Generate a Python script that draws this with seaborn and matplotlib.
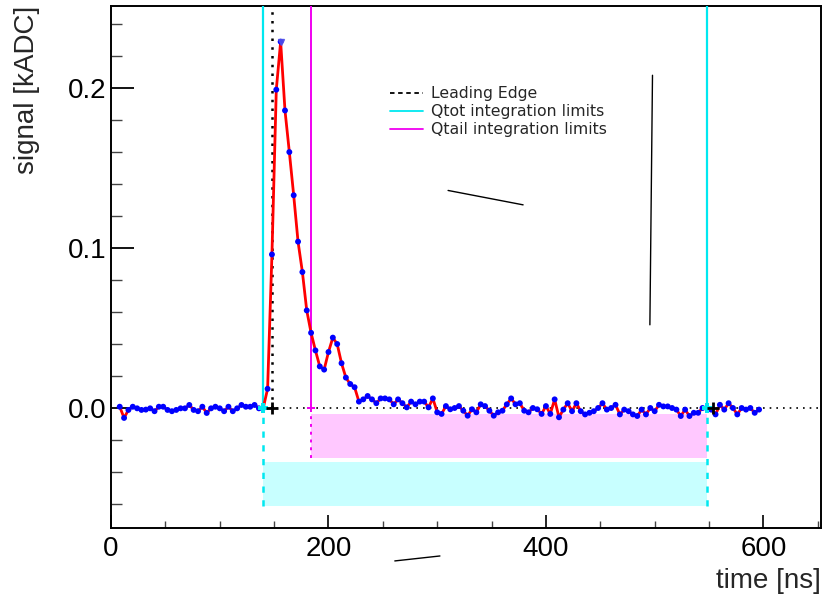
import numpy as np
import matplotlib
matplotlib.use("Agg")
import matplotlib.pyplot as plt
from matplotlib.lines import Line2D
from matplotlib.ticker import MultipleLocator
import seaborn as sns

# sampled waveform: one sample every 4 ns, starting at 8 ns
time_ns = np.arange(8, 600, 4)
signal = [
    # 8 .. 136 ns (baseline before the pulse)
    0.0008, -0.0062, -0.0012, 0.0008, -0.0002, -0.0012, -0.0010, -0.0002, -0.0020, 0.0008,
    0.0008, -0.0012, -0.0020, -0.0012, -0.0002, -0.0002, 0.0019, -0.0012, -0.0020, 0.0008,
    -0.0031, -0.0002, 0.0008, -0.0002, -0.0020, 0.0008, -0.0020, -0.0002, 0.0019, 0.0008,
    0.0008, 0.0019, -0.0002,
    # 140 .. 228 ns (pulse)
    0.0, 0.012, 0.096, 0.199, 0.229, 0.186, 0.160, 0.133, 0.104, 0.085,
    0.061, 0.047, 0.036, 0.026, 0.024, 0.035, 0.044, 0.040, 0.028, 0.019,
    0.015, 0.013, 0.004,
    # 232 .. 412 ns
    0.0054, 0.0075, 0.0054, 0.0030, 0.0060, 0.0060, 0.0054, 0.0023, 0.0054, 0.0030,
    0.0004, 0.0040, 0.0023, 0.0040, 0.0040, 0.0004, 0.0060, -0.0027, -0.0037, 0.0012,
    -0.0008, 0.0000, 0.0012, -0.0017, -0.0048, -0.0008, -0.0027, 0.0023, 0.0012, -0.0017,
    -0.0048, -0.0027, -0.0017, 0.0023, 0.0060, 0.0023, 0.0030, -0.0017, -0.0027, 0.0000,
    -0.0008, -0.0037, 0.0012, -0.0037, 0.0054, -0.0058,
    # 416 .. 548 ns
    -0.0010, 0.0030, -0.0020, 0.0030, -0.0020, -0.0040, -0.0030, -0.0020, 0.0000, 0.0030,
    -0.0010, 0.0000, 0.0020, -0.0040, -0.0010, -0.0020, -0.0040, -0.0050, -0.0010, -0.0040,
    0.0000, -0.0020, 0.0020, 0.0010, 0.0010, 0.0000, -0.0010, -0.0050, -0.0010, -0.0050,
    -0.0030, -0.0030, 0.0000, 0.0000,
    # 552 .. 596 ns
    -0.0010, -0.0040, 0.0020, -0.0010, 0.0030, 0.0000, -0.0040, 0.0000, -0.0010, 0.0000,
    -0.0030, -0.0010,
]

peak_time = [156]
peak_value = [0.229]

leading_edge = [148]
edge_marks = [148, 554]
qtot_limits = [140, 548]
qtail_limits = [184, 548]

# shaded bands below the baseline (y ranges in kADC)
qtail_band = (-0.031, -0.0035)
qtot_band = (-0.061, -0.0336)

# stray pen strokes visible on the original canvas: (t0, t1), (y0, y1)
strokes = [
    ([261, 302.5], [-0.0956, -0.0925]),
    ([310, 379], [0.136, 0.127]),
    ([498, 495.6], [0.208, 0.052]),
]

legend_labels = ["Leading Edge", "Qtot integration limits", "Qtail integration limits"]

CYAN = "#00e8f0"
MAGENTA = "#f000f0"
YTOP = 0.2513
YBOT = -0.075
XMAX = 653

sns.set_style("white")
plt.rcParams["font.family"] = ["Liberation Sans", "DejaVu Sans"]

fig = plt.figure(figsize=(8.23, 6.01), dpi=100)
ax = fig.add_axes([0.1349, 0.1215, 0.8627, 0.8685])

# integration bands
ax.fill_between([qtail_limits[0], qtail_limits[1]], qtail_band[0], qtail_band[1],
                color="#ffc8ff", lw=0, zorder=1)
ax.fill_between([qtot_limits[0], qtot_limits[1]], qtot_band[0], qtot_band[1],
                color="#c8ffff", lw=0, zorder=1)

# baseline
ax.hlines(0, qtot_limits[0], XMAX, colors="black", linestyles=(0, (1, 3)), lw=1.2, zorder=2)

# limit lines above / below the baseline
ax.vlines(qtot_limits, 0, YTOP + 0.01, colors=CYAN, lw=1.6, zorder=3)
ax.vlines(qtot_limits, qtot_band[0], 0, colors=CYAN, linestyles=(0, (2.5, 3)), lw=1.8, zorder=3)
ax.vlines(qtail_limits[0], 0, YTOP + 0.01, colors=MAGENTA, lw=1.4, zorder=3)
ax.vlines(qtail_limits[0], qtail_band[0], 0, colors=MAGENTA, linestyles=(0, (1.5, 2.5)), lw=1.4, zorder=3)
ax.vlines(leading_edge, 0, YTOP + 0.01, colors="black", linestyles=(0, (1, 2.5)), lw=1.8, zorder=3)

# waveform
sns.lineplot(x=time_ns, y=signal, color="red", lw=2.0, ax=ax, zorder=4)
sns.scatterplot(x=time_ns, y=signal, color="blue", s=18, edgecolor="none", ax=ax, zorder=5)
ax.plot(peak_time, peak_value, marker="v", ms=5, color="#5050e8", alpha=0.9, ls="none", zorder=6)

# markers on the baseline
ax.plot(qtot_limits, [0, 0], marker="P", ms=7, color=CYAN, mew=0, ls="none", zorder=6)
ax.plot(qtail_limits[:1], [0], marker="P", ms=6, color=MAGENTA, mew=0, ls="none", zorder=6)
ax.plot(edge_marks, [0, 0], marker="+", ms=9, mew=2, color="black", ls="none", zorder=6)

for sx, sy in strokes:
    ax.plot(sx, sy, color="black", lw=1.0, clip_on=False, zorder=7)

ax.set_xlim(0, XMAX)
ax.set_ylim(YBOT, YTOP)

ax.xaxis.set_major_locator(MultipleLocator(200))
ax.xaxis.set_minor_locator(MultipleLocator(50))
ax.yaxis.set_major_locator(MultipleLocator(0.1))
ax.yaxis.set_minor_locator(MultipleLocator(0.02))
ax.yaxis.set_major_formatter(matplotlib.ticker.FormatStrFormatter("%.1f"))

ax.tick_params(axis="both", which="both", direction="in", top=False, right=False,
               left=True, bottom=True, colors="black")
ax.tick_params(axis="y", which="major", length=16.5, width=1.3, pad=3, labelsize=20)
ax.tick_params(axis="y", which="minor", length=8, width=1.0, color="#444444")
ax.tick_params(axis="x", which="major", length=9.5, width=1.2, pad=6, labelsize=20)
ax.tick_params(axis="x", which="minor", length=5, width=1.0, color="#444444")

for sp in ax.spines.values():
    sp.set_color("black")
    sp.set_linewidth(1.4)
    sp.set_visible(True)

ax.set_xlabel("time [ns]", fontsize=20, loc="right")
ax.xaxis.set_label_coords(1.0, -0.077)
ax.set_ylabel("signal [kADC]", fontsize=20, loc="top")
ax.yaxis.set_label_coords(-0.1, 1.0)

handles = [
    Line2D([], [], color="black", ls=(0, (2.5, 2)), lw=1.3),
    Line2D([], [], color=CYAN, lw=1.3),
    Line2D([], [], color=MAGENTA, lw=1.3),
]
leg = ax.legend(handles, legend_labels, loc="upper left",
                bbox_to_anchor=(390 / 823, 1 - 86 / 601), bbox_transform=fig.transFigure,
                frameon=False, borderpad=0, borderaxespad=0, handlelength=2.1,
                handletextpad=0.5, labelspacing=0.2,
                prop={"family": "DejaVu Sans", "size": 11.3})

fig.savefig("out.png", dpi=100)
